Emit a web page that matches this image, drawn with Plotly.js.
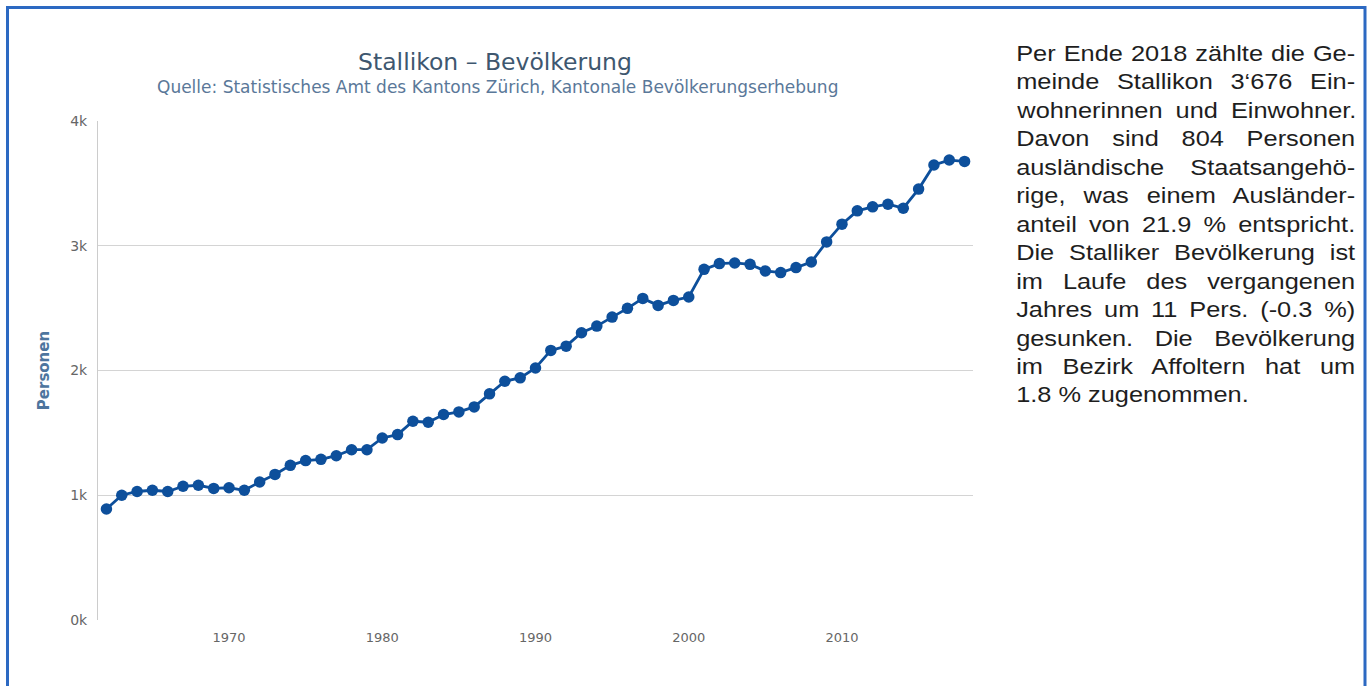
<!DOCTYPE html>
<html>
<head>
<meta charset="utf-8">
<script src="https://cdn.plot.ly/plotly-3.0.1.min.js"></script>
<style>
html, body { margin: 0; padding: 0; background: #ffffff; }
#chart { width: 1370px; height: 686px; }
</style>
</head>
<body>
<div id="chart"></div>
<script>
// ---------------- data ----------------
const years = [1962, 1963, 1964, 1965, 1966, 1967, 1968, 1969, 1970, 1971,
               1972, 1973, 1974, 1975, 1976, 1977, 1978, 1979, 1980, 1981,
               1982, 1983, 1984, 1985, 1986, 1987, 1988, 1989, 1990, 1991,
               1992, 1993, 1994, 1995, 1996, 1997, 1998, 1999, 2000, 2001,
               2002, 2003, 2004, 2005, 2006, 2007, 2008, 2009, 2010, 2011,
               2012, 2013, 2014, 2015, 2016, 2017, 2018];
const population = [890, 1000, 1030, 1040, 1030, 1072, 1080, 1055, 1060, 1040,
                    1106, 1167, 1240, 1278, 1288, 1317, 1365, 1365, 1459, 1486,
                    1593, 1585, 1647, 1668, 1708, 1813, 1914, 1941, 2020, 2161,
                    2195, 2303, 2356, 2428, 2498, 2578, 2522, 2562, 2589, 2811,
                    2857, 2862, 2851, 2798, 2785, 2825, 2870, 3031, 3173, 3280,
                    3312, 3333, 3301, 3454, 3647, 3687, 3676];
const xTickVals = [1970, 1980, 1990, 2000, 2010];
const xTickText = ['1970', '1980', '1990', '2000', '2010'];
const yTickVals = [0, 1000, 2000, 3000, 4000];
const yTickText = ['0k', '1k', '2k', '3k', '4k'];
const titleText = 'Stallikon – Bevölkerung';
const subtitleText = 'Quelle: Statistisches Amt des Kantons Zürich, Kantonale Bevölkerungserhebung';
const yAxisTitle = 'Personen';
const paragraphLines = [
  'Per Ende 2018 zählte die Ge-',
  'meinde Stallikon 3‘676 Ein-',
  'wohnerinnen und Einwohner.',
  'Davon sind 804 Personen',
  'ausländische Staatsangehö-',
  'rige, was einem Ausländer-',
  'anteil von 21.9 % entspricht.',
  'Die Stalliker Bevölkerung ist',
  'im Laufe des vergangenen',
  'Jahres um 11 Pers. (-0.3 %)',
  'gesunken. Die Bevölkerung',
  'im Bezirk Affoltern hat um',
  '1.8 % zugenommen.'
];

// ---------------- layout geometry ----------------
const W = 1370, H = 686;
const M = { l: 98, r: 397, t: 121, b: 66 };
const PW = W - M.l - M.r, PH = H - M.t - M.b;
const px2x = px => (px - M.l) / PW;
const px2y = py => (H - M.b - py) / PH;

const PARA_LEFT = 1015, PARA_WIDTH = 339, PARA_TOP = 54, PARA_PITCH = 28.45;
const PARA_SCALE = 1.18;

const annotations = [
  {
    text: subtitleText, xref: 'paper', yref: 'paper',
    x: px2x(497), y: px2y(87), xanchor: 'center', yanchor: 'middle',
    showarrow: false,
    font: { family: 'DejaVu Sans', size: 17, color: '#5a7899' }
  }
];
const paraStart = annotations.length;
paragraphLines.forEach((line, i) => {
  annotations.push({
    text: line, xref: 'paper', yref: 'paper',
    x: px2x(PARA_LEFT), y: px2y(PARA_TOP + i * PARA_PITCH),
    xanchor: 'left', yanchor: 'middle', align: 'left',
    showarrow: false, borderpad: 0,
    font: { family: 'Liberation Sans, Arial, sans-serif', size: 21.5, color: '#1e1e1e' }
  });
});

const trace = {
  x: years, y: population, type: 'scatter', mode: 'lines+markers',
  line: { color: '#0d4f9b', width: 2.8 },
  marker: { color: '#0d4f9b', size: 11.5 },
  hoverinfo: 'x+y', showlegend: false
};

const layout = {
  width: W, height: H,
  margin: M,
  paper_bgcolor: '#ffffff', plot_bgcolor: '#ffffff',
  font: { family: 'DejaVu Sans', color: '#666666' },
  title: {
    text: titleText, xref: 'container', yref: 'container',
    x: 495 / W, y: 1 - 62 / H, xanchor: 'center', yanchor: 'middle',
    font: { family: 'DejaVu Sans', size: 23.5, color: '#3E576F' }
  },
  xaxis: {
    range: [1961.45, 2018.55],
    tickvals: xTickVals, ticktext: xTickText,
    showgrid: false, zeroline: false, showline: false, ticks: '',
    ticklabelstandoff: 8,
    tickfont: { family: 'DejaVu Sans', size: 13, color: '#666666' }
  },
  yaxis: {
    range: [0, 4000],
    tickvals: yTickVals, ticktext: yTickText,
    showgrid: true, gridcolor: '#d4d4d4', gridwidth: 1,
    zeroline: false, showline: true, linecolor: '#cccccc', linewidth: 1,
    ticks: '', ticklabelstandoff: 7,
    tickfont: { family: 'DejaVu Sans', size: 14, color: '#666666' },
    title: {
      text: yAxisTitle, standoff: 16,
      font: { family: 'DejaVu Sans', size: 15, color: '#4d759e', weight: 'bold' }
    }
  },
  shapes: [
    {
      type: 'rect', xref: 'paper', yref: 'paper', layer: 'above',
      x0: px2x(7.5), x1: px2x(1365), y0: px2y(720), y1: px2y(7.5),
      line: { color: '#2c69c2', width: 3 }, fillcolor: 'rgba(0,0,0,0)'
    }
  ],
  annotations: annotations
};

Plotly.newPlot('chart', [trace], layout, { displayModeBar: false, staticPlot: true }).then(gd => {
  // justify paragraph lines (left edge fixed, stretch words to the block width)
  gd.querySelectorAll('g.annotation').forEach(g => {
    const idx = +g.getAttribute('data-index');
    if (idx < paraStart) return;
    const li = idx - paraStart;
    const t = g.querySelector('text.annotation-text');
    if (!t) return;
    t.setAttribute('transform', 'scale(' + PARA_SCALE + ',1)');
    if (li === paragraphLines.length - 1) return;
    const len = t.getComputedTextLength();
    const spaces = (paragraphLines[li].match(/ /g) || []).length;
    if (!spaces) return;
    const ws = (PARA_WIDTH / PARA_SCALE - len) / spaces;
    t.style.wordSpacing = ws.toFixed(2) + 'px';
  });
});
</script>
</body>
</html>
